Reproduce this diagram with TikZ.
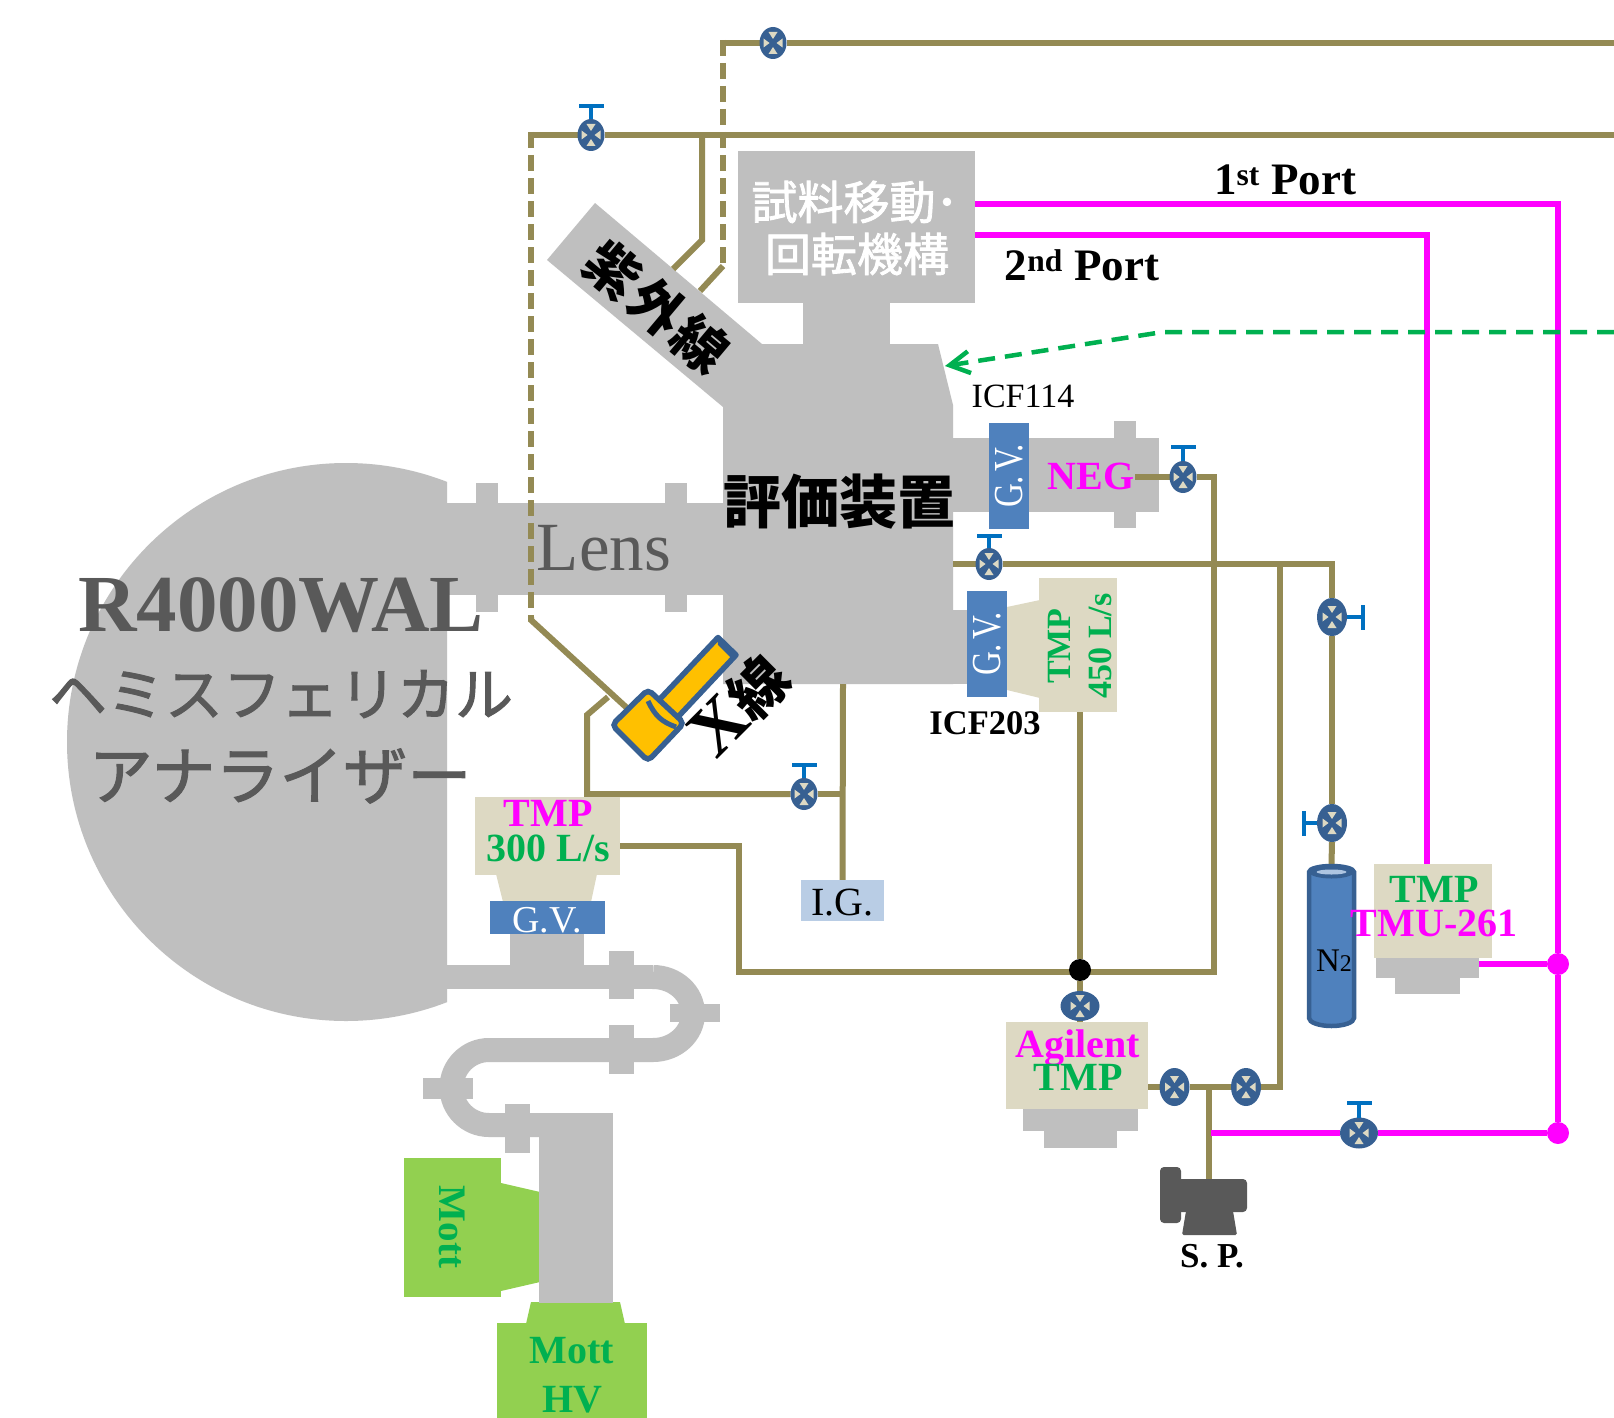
\documentclass[tikz,border=0pt]{standalone}
\usepackage{fontspec}
\usepackage{graphicx}
\setmainfont{Liberation Serif}
\newfontfamily\cjk{Noto Sans CJK JP}
\newfontfamily\cjkm[FakeBold=1.7]{Noto Sans CJK JP}
\usetikzlibrary{shapes.geometric,arrows.meta,calc}
\pgfdeclarelayer{back}\pgfdeclarelayer{pipes}\pgfsetlayers{back,pipes,main}
\definecolor{greyc}{HTML}{BFBFBF}
\definecolor{pipec}{HTML}{948A54}
\definecolor{magc}{HTML}{FF00FF}
\definecolor{gvc}{HTML}{4F81BD}
\definecolor{vblue}{HTML}{376092}
\definecolor{vcream}{HTML}{DDD9C3}
\definecolor{handc}{HTML}{0070C0}
\definecolor{txg}{HTML}{00B050}
\definecolor{mottc}{HTML}{92D050}
\definecolor{igc}{HTML}{B9CDE5}
\definecolor{darkt}{HTML}{595959}
\definecolor{orgc}{HTML}{FFC000}
\newcommand{\fsz}[1]{\fontsize{#1}{#1}\selectfont}
\newcommand{\gvtext}{\scalebox{1}[1.25]{G.\kern4pt V.}}
\tikzset{
 pipe/.style={draw=pipec,line width=6pt,line join=miter},
 dashpipe/.style={pipe,dash pattern=on 16pt off 7pt},
 magpipe/.style={draw=magc,line width=6pt,line join=miter},
 handle/.style={draw=handc,line width=4.5pt},
 boxn/.style n args={3}{rectangle,draw=none,fill=#1,minimum width=#2pt,minimum height=#3pt,inner sep=0pt,outer sep=0pt},
 txt/.style={inner sep=0pt,outer sep=0pt},
 dot/.style={ellipse,inner sep=0pt,minimum width=22pt,minimum height=22pt,fill=#1},
 valve/.style 2 args={ellipse,inner sep=0pt,outer sep=0pt,minimum width=#1pt,minimum height=#2pt,fill=vblue,
   path picture={\begin{scope}[shift={(path picture bounding box.center)},xscale=#1/27,yscale=#2/32]
     \fill[vcream] (-4.5,-11)--(4.5,-11)--(0,-4)--cycle;
     \fill[vcream] (-4.5,11)--(4.5,11)--(0,4)--cycle;
     \fill[vcream] (-9.5,-4.5)--(-9.5,4.5)--(-3.5,0)--cycle;
     \fill[vcream] (9.5,-4.5)--(9.5,4.5)--(3.5,0)--cycle;
   \end{scope}}},
}
\begin{document}
\begin{tikzpicture}[x=1pt,y=-1pt]
\useasboundingbox (0,0) rectangle (1614,1418);

% ---------- grey vacuum bodies
\begin{pgfonlayer}{back}
 \fill[white] (0,0) rectangle (1614,1418);
 % analyser
 \begin{scope}
  \clip (0,400) rectangle (447,1100);
  \fill[greyc] (346,742) circle (279);
 \end{scope}
 % lens column
 \fill[greyc] (446,503) rectangle (724,595);
 \fill[greyc] (476,483) rectangle (498,612);
 \fill[greyc] (665,483) rectangle (687,612);
 % main chamber + UV port
 \fill[greyc] (762,344)--(938,344)--(953,405)--(953,684)--(723,684)--(723,407)--(547,260)--(595,203)--cycle;
 \fill[greyc] (803,300) rectangle (890,345);
 % NEG
 \fill[greyc] (952,438) rectangle (1159,512);
 \fill[greyc] (1114,421) rectangle (1136,528);
 % TMP450 neck
 \fill[greyc] (952,610) rectangle (968,684);
 % bend line
 \fill[greyc] (446,965) rectangle (653,989);
 \fill[greyc] (510,934) rectangle (584,966);
 \draw[greyc,line width=24pt] (653,977) arc[start angle=-90,end angle=90,x radius=40,y radius=36.5] -- (489,1050)
   arc[start angle=270,end angle=90,radius=37.5] -- (545,1125);
 \fill[greyc] (609,951) rectangle (634,999);
 \fill[greyc] (609,1025) rectangle (634,1074);
 \fill[greyc] (670,1004) rectangle (720,1022);
 \fill[greyc] (423,1078) rectangle (473,1099);
 \fill[greyc] (505,1104) rectangle (530,1153);
 % pump feet
 \fill[greyc] (1023,1108) rectangle (1138,1131);
 \fill[greyc] (1043.5,1130) rectangle (1117,1148);
 \fill[greyc] (1376,957) rectangle (1479,978);
 \fill[greyc] (1394.5,977) rectangle (1460,994);
\end{pgfonlayer}

% ---------- boxes
\node[boxn={greyc}{237}{152}] (sample) at (856.5,227) {};
\node[boxn={gvc}{40}{106}] (gvneg) at (1009,476) {};
\node[boxn={gvc}{40}{106}] (gvfour) at (987,644) {};
\fill[vcream] (1007,607)--(1040,600)--(1040,698)--(1007,690)--cycle;
\node[boxn={vcream}{78}{134}] (tmpfour) at (1078,645) {};
\fill[vcream] (496,874)--(597,874)--(591,902)--(503,902)--cycle;
\node[boxn={vcream}{145}{78}] (tmpthree) at (547.5,836) {};
\node[boxn={gvc}{115}{33}] (gvthree) at (547.5,917.5) {};
\node[boxn={igc}{83}{41}] (ig) at (842.5,900.5) {};
\fill[mottc] (501,1183)--(540,1192)--(540,1282)--(501,1291)--cycle;
\node[boxn={mottc}{97}{139}] (mott) at (452.5,1227.5) {};
\fill[mottc] (531,1302)--(620,1302)--(625,1324)--(526,1324)--cycle;
\node[boxn={mottc}{150}{95}] (mottv) at (572,1370.5) {};
\node[boxn={vcream}{142}{87}] (agilent) at (1077,1065.5) {};
\node[boxn={vcream}{118}{94}] (tmu) at (1433,911) {};
\coordinate (negport) at (1135,477);
\coordinate (tmuplug) at (1479,964);
% Mott column stays above the green necks
\fill[greyc] (539,1113) rectangle (613,1303);

% ---------- N2 cylinder
\node[rectangle,draw=none,fill=none,minimum width=49pt,minimum height=164pt,inner sep=0pt,outer sep=0pt] (ntwo) at (1331.5,946) {};
\filldraw[fill=gvc,draw=vblue,line width=4.5pt] (1309,872) -- (1309,1018)
   arc[start angle=180,end angle=360,x radius=22.5,y radius=-8] -- (1354,872)
   arc[start angle=360,end angle=180,x radius=22.5,y radius=6] -- cycle;
\fill[vblue] (1309,872) arc[start angle=180,end angle=360,x radius=22.5,y radius=6.5] -- (1354,872) arc[start angle=0,end angle=180,x radius=22.5,y radius=6.5];
\fill[igc!90!gvc] (1331.5,872) ellipse (15 and 2.5);

% ---------- pump
\filldraw[fill=darkt,draw=none,rounded corners=4pt] (1160,1167) rectangle (1181,1223);
\node[rectangle,fill=darkt,rounded corners=4pt,minimum width=70pt,minimum height=33pt,inner sep=0pt,outer sep=0pt] (pump) at (1212,1195.5) {};
\fill[darkt,rounded corners=1.5pt] (1186,1211)--(1233,1211)--(1237,1235)--(1182,1235)--cycle;

% ---------- X-ray tube
\filldraw[fill=orgc,draw=vblue,line width=5.5pt,line join=round] (718,637.5)--(736,655)--(676,719)--(658,701)--cycle;
\fill[vblue] (717,635)--(738,655)--(731,658)--(718,645)--cycle;
\filldraw[fill=orgc,draw=vblue,line width=5.5pt,rounded corners=5pt] (648,689.5)--(684,723)--(648,761)--(612,725)--cycle;
\draw[vblue,line width=5pt] (648,701) .. controls (655,716) and (662,722) .. (676,727);

% ---------- junction dots
\node[dot=black] (jb) at (1080,970) {};
\node[dot=magc] (jm1) at (1558,964) {};
\node[dot=magc] (jm2) at (1558,1133) {};

% ---------- valves
\node[valve={27}{32}] (vtop) at (773,43) {};
\node[valve={27}{32}] (vuv) at (591,135) {};
\node[valve={27}{32}] (vneg) at (1183,477) {};
\node[valve={27}{32}] (vmain) at (989,564) {};
\node[valve={27}{32}] (vbase) at (804,794) {};
\node[valve={30}{38}] (vright) at (1332,617) {};
\node[valve={30}{38}] (vlow) at (1332,823) {};
\node[valve={39}{30}] (vagi) at (1080,1006) {};
\node[valve={30}{38}] (vback) at (1174.5,1087) {};
\node[valve={30}{38}] (vsp) at (1246,1087) {};
\node[valve={38}{31}] (vmag) at (1359,1133) {};

% ---------- valve handles
\draw[handle] (vuv.north) -- (591,106) (579,106) -- (604,106);
\draw[handle] (vneg.north) -- (1183,447) (1171,447) -- (1196,447);
\draw[handle] (vmain.north) -- (989,536) (977,536) -- (1002,536);
\draw[handle] (vbase.north) -- (804,765) (792,765) -- (817,765);
\draw[handle] (vright.east) -- (1363,617) (1363,605) -- (1363,630);
\draw[handle] (vlow.west) -- (1304,823) (1304,811) -- (1304,836);
\draw[handle] (vmag.north) -- (1359,1103) (1347,1103) -- (1372,1103);

% ---------- pipes
\coordinate (rt) at (1614,43);
\coordinate (rs) at (1614,135);
\begin{pgfonlayer}{pipes}
 \draw[pipe] (rt) -- (vtop.east);
 \draw[pipe] (vtop.west) -- (720,43);
 \draw[dashpipe] (723,40) -- (723,266);
 \draw[pipe] (723,266) -- (700,291);
 \draw[pipe] (rs) -- (vuv.east);
 \draw[pipe] (vuv.west) -- (528,135);
 \draw[dashpipe] (531,132) -- (531,620);
 \draw[pipe] (531,617) -- (531,620) -- (627,708);
 \draw[pipe] (702,135) -- (702,240) -- (673,269);
 \draw[pipe] (608,697) -- (587,715) -- (587,794) -- (vbase.west);
 \draw[pipe] (vbase.east) -- (843,794);
 \draw[pipe] (843,684) -- (ig.north);
 \draw[pipe] (tmpthree.east |- 0,846) -- (739,846) -- (739,972) -- (1214,972) -- (1214,477) -- (vneg.east);
 \draw[pipe] (vneg.west) -- (negport);
 \draw[pipe] (tmpfour.south -| 1080,0) -- (jb.north);
 \draw[pipe] (jb.south) -- (vagi.north);
 \draw[pipe] (vagi.south) -- (agilent.north -| 1080,0);
 \draw[pipe] (953,564) -- (vmain.west);
 \draw[pipe] (vmain.east) -- (1332,564) -- (vright.north);
 \draw[pipe] (vright.south) -- (vlow.north);
 \draw[pipe] (vlow.south) -- (ntwo.north);
 \draw[pipe] (1280,564) -- (1280,1087) -- (vsp.east);
 \draw[pipe] (vsp.west) -- (vback.east);
 \draw[pipe] (vback.west) -- (agilent.east |- 0,1087);
 \draw[pipe] (1209,1087) -- (pump.north -| 1209,0);
 % magenta
 \draw[magpipe] (sample.east |- 0,204) -- (1558,204) -- (jm1.north);
 \draw[magpipe] (jm1.south) -- (jm2.north);
 \draw[magpipe] (sample.east |- 0,235) -- (1427,235) -- (tmu.north -| 1427,0);
 \draw[magpipe] (tmuplug) -- (jm1.west);
 \draw[magpipe] (1211,1133) -- (vmag.west);
 \draw[magpipe] (vmag.east) -- (jm2.west);
\end{pgfonlayer}
\coordinate (arrtail) at (1614,332);
\coordinate (arrbend) at (1163,332);
\coordinate (arrtip) at (945,366);
\draw[draw=txg,line width=4.5pt,dash pattern=on 17pt off 10pt,-{Straight Barb[length=20pt,width=22pt,line width=4.5pt]}] (arrtail) -- (arrbend) -- (arrtip);

% ---------- text
\node[txt,text=white,font=\cjkm\fsz{46}] (tsamp1) at (855,202) {試料移動･};
\node[txt,text=white,font=\cjkm\fsz{46}] (tsamp2) at (857,254) {回転機構};
\node[txt,rotate=-40,font=\cjk\bfseries\fsz{54}] (tuv) at (657,307) {\addfontfeatures{LetterSpace=6}紫外線};
\node[txt,font=\cjk\bfseries\fsz{58}] (teval) at (839,502) {評価装置};
\node[txt,rotate=45,font=\fsz{72}] (txr) at (740,706) {\textbf{X}{\cjk\bfseries\fsz{58}線}};
\node[txt,text=darkt,font=\bfseries\fsz{81}] (tana1) at (281,605) {R4000WAL};
\node[txt,text=darkt,font=\cjkm\fsz{58}] (tana2) at (281,694) {ヘミスフェリカル};
\node[txt,text=darkt,font=\cjkm\fsz{64}] (tana3) at (280,776) {アナライザー};
\node[txt,text=darkt,font=\fsz{69},anchor=base] (tlens) at (604,570) {Lens};
\node[txt,font=\bfseries\fsz{45}] (tfirst) at (1285,180) {1\textsuperscript{st} Port};
\node[txt,font=\bfseries\fsz{45}] (tsecond) at (1082,265) {2\textsuperscript{nd} Port};
\node[txt,font=\fsz{34}] (ticfa) at (1023,396) {ICF114};
\node[txt,font=\bfseries\fsz{34.5}] (ticfb) at (985,723) {ICF203};
\node[txt,rotate=90,text=white,font=\fsz{33}] at (gvneg) {\gvtext};
\node[txt,rotate=90,text=white,font=\fsz{33}] at (gvfour) {\gvtext};
\node[txt,text=white,font=\fsz{38}] at (547,920) {G.V.};
\node[txt,text=magc,font=\bfseries\fsz{40}] (tneg) at (1091,476) {NEG};
\node[txt,rotate=90,text=txg,font=\bfseries\fsz{34}] (ttmp4a) at (1059,646) {TMP};
\node[txt,rotate=90,text=txg,font=\bfseries\fsz{34}] (ttmp4b) at (1100,646) {450 L/s};
\node[txt,text=magc,font=\bfseries\fsz{40}] (ttmp3a) at (548,813) {TMP};
\node[txt,text=txg,font=\bfseries\fsz{40}] (ttmp3b) at (548,848) {300 L/s};
\node[txt,font=\fsz{40}] at ([yshift=-2pt]ig.center) {I.G.};
\node[txt,rotate=-90,text=txg,font=\bfseries\fsz{39}] (tmott) at (452,1227) {Mott};
\node[txt,text=txg,font=\bfseries\fsz{40}] (tmottv1) at (572,1351) {Mott};
\node[txt,text=txg,font=\bfseries\fsz{40}] (tmottv2) at (572,1400) {HV};
\node[txt,text=magc,font=\bfseries\fsz{40}] (tagi) at (1078,1048) {Agilent};
\node[txt,text=txg,font=\bfseries\fsz{40}] (tagitmp) at (1078,1077) {TMP};
\node[txt,text=txg,font=\bfseries\fsz{40}] (ttmua) at (1434,889) {TMP};
\node[txt,text=magc,font=\bfseries\fsz{40}] (ttmub) at (1434,923) {TMU-261};
\node[txt,font=\fsz{33}] (tn2) at (1334,961) {N{\fsz{24}2}};
\node[txt,font=\bfseries\fsz{35}] (tsp) at (1212,1256) {S. P.};
\end{tikzpicture}
\end{document}
